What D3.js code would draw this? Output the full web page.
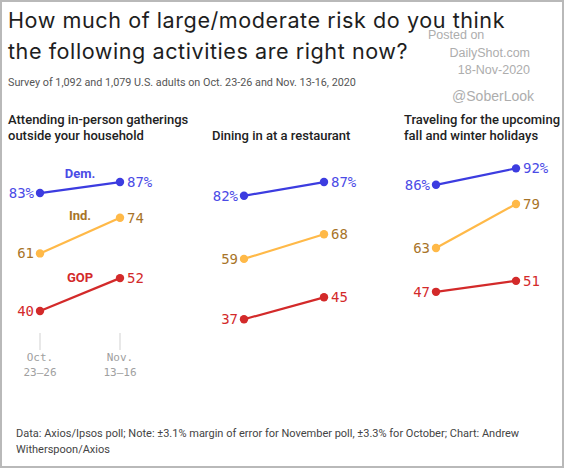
<!DOCTYPE html>
<html>
<head>
<meta charset="utf-8">
<script src="https://cdn.jsdelivr.net/npm/d3@7"></script>
<style>
  html, body { margin: 0; padding: 0; background: #fff; }
  svg { display: block; }
</style>
</head>
<body>
<svg id="chart" width="564" height="468"></svg>
<script>
// ---------- data ----------
const periods = ["Oct.", "Nov."];
const periodSub = ["23–26", "13–16"];
const activities = [
  ["Attending in-person gatherings", "outside your household"],
  ["Dining in at a restaurant"],
  ["Traveling for the upcoming", "fall and winter holidays"]
];
const seriesNames = ["Dem.", "Ind.", "GOP"];
const demValues = [[83, 87], [82, 87], [86, 92]];
const indValues = [[61, 74], [59, 68], [63, 79]];
const gopValues = [[40, 52], [37, 45], [47, 51]];

const titleLines = ["How much of large/moderate risk do you think", "the following activities are right now?"];
const subtitle = "Survey of 1,092 and 1,079 U.S. adults on Oct. 23-26 and Nov. 13-16, 2020";
const footerLines = ["Data: Axios/Ipsos poll; Note: ±3.1% margin of error for November poll, ±3.3% for October; Chart: Andrew", "Witherspoon/Axios"];
const watermark = ["Posted on", "DailyShot.com", "18-Nov-2020", "@SoberLook"];

// ---------- layout ----------
const W = 564, H = 468;
const svg = d3.select("#chart");
const sans = "Roboto, 'Liberation Sans', sans-serif";
const titleFont = "Inter, Roboto, sans-serif";
const mono = "'DejaVu Sans Mono', 'Liberation Mono', monospace";

const lineColors = ["#3c3ce0", "#ffb948", "#d32a2a"];
const textColors = ["#4b4be6", "#a87428", "#d32a2a"];
const allValues = [demValues, indValues, gopValues];

const y = d3.scaleLinear().domain([0, 100]).range([420.8, 146.4]);
const panelLeft = [8, 212, 404];
const panelX = panelLeft.map(l => d3.scalePoint().domain(periods).range([l + 32, l + 112]));

// border
svg.append("rect").attr("x", 1).attr("y", 1).attr("width", W - 2).attr("height", H - 2)
  .attr("fill", "#fff").attr("stroke", "#b9b9b9").attr("stroke-width", 2);

// title
svg.append("g").selectAll("text").data(titleLines).join("text")
  .attr("x", 8).attr("y", (d, i) => 27.5 + i * 31)
  .attr("font-family", titleFont).attr("font-size", 21.6).attr("fill", "#1e1e1e")
  .attr("letter-spacing", 0.55)
  .text(d => d);

svg.append("text").attr("x", 8).attr("y", 85.5)
  .attr("font-family", sans).attr("font-size", 10.8).attr("fill", "#555")
  .text(subtitle);

// watermark
const wmX = [428, 530, 530, 534];
const wmY = [38.5, 57, 74, 101];
svg.append("g").selectAll("text").data(watermark).join("text")
  .attr("x", (d, i) => wmX[i])
  .attr("y", (d, i) => wmY[i])
  .attr("text-anchor", (d, i) => i === 0 ? "start" : "end")
  .attr("font-family", "'Liberation Sans', Arial, sans-serif")
  .attr("font-size", (d, i) => i === 3 ? 14 : 12.5)
  .attr("fill", "#adadad")
  .text(d => d);

// panels
activities.forEach((lines, p) => {
  const g = svg.append("g");
  const x = panelX[p];
  const n = lines.length;
  g.selectAll("text.ptitle").data(lines).join("text").attr("class", "ptitle")
    .attr("x", panelLeft[p])
    .attr("y", (d, i) => 139.5 - (n - 1 - i) * 16)
    .attr("font-family", sans).attr("font-size", 13).attr("font-weight", 500)
    .attr("fill", "#222")
    .text(d => d);

  if (p === 0) {
    // axis ticks
    periods.forEach((per, i) => {
      g.append("line").attr("x1", x(per)).attr("x2", x(per))
        .attr("y1", 333).attr("y2", 350)
        .attr("stroke", "#e8e8e8").attr("stroke-width", 2);
      g.append("text").attr("x", x(per)).attr("y", 361)
        .attr("text-anchor", "middle").attr("font-family", mono)
        .attr("font-size", 11).attr("fill", "#a0a0a0").text(per);
      g.append("text").attr("x", x(per)).attr("y", 376)
        .attr("text-anchor", "middle").attr("font-family", mono)
        .attr("font-size", 11).attr("fill", "#a0a0a0").text(periodSub[i]);
    });
  }

  seriesNames.forEach((name, s) => {
    const vals = allValues[s][p];
    const pts = periods.map((per, i) => [x(per), y(vals[i])]);
    g.append("path").attr("d", d3.line()(pts))
      .attr("fill", "none").attr("stroke", lineColors[s]).attr("stroke-width", 2.2);
    g.selectAll(null).data(pts).join("circle")
      .attr("cx", d => d[0]).attr("cy", d => d[1]).attr("r", 4.2)
      .attr("fill", lineColors[s]);
    const suffix = s === 0 ? "%" : "";
    g.append("text").attr("x", pts[0][0] - 6).attr("y", pts[0][1] + 5)
      .attr("text-anchor", "end").attr("font-family", mono).attr("font-size", 14)
      .attr("fill", textColors[s]).text(vals[0] + suffix);
    g.append("text").attr("x", pts[1][0] + 7).attr("y", pts[1][1] + 5)
      .attr("text-anchor", "start").attr("font-family", mono).attr("font-size", 14)
      .attr("fill", textColors[s]).text(vals[1] + suffix);
    if (p === 0) {
      const labelOffset = [9.5, 15.5, 13][s];
      g.append("text")
        .attr("x", (pts[0][0] + pts[1][0]) / 2)
        .attr("y", (pts[0][1] + pts[1][1]) / 2 - labelOffset)
        .attr("text-anchor", "middle").attr("font-family", sans)
        .attr("font-size", 13).attr("font-weight", 700)
        .attr("fill", textColors[s]).text(name);
    }
  });
});

// footer
svg.append("g").selectAll("text").data(footerLines).join("text")
  .attr("x", 16).attr("y", (d, i) => 437 + i * 16)
  .attr("font-family", sans).attr("font-size", 11).attr("fill", "#444")
  .text(d => d);
</script>
</body>
</html>
